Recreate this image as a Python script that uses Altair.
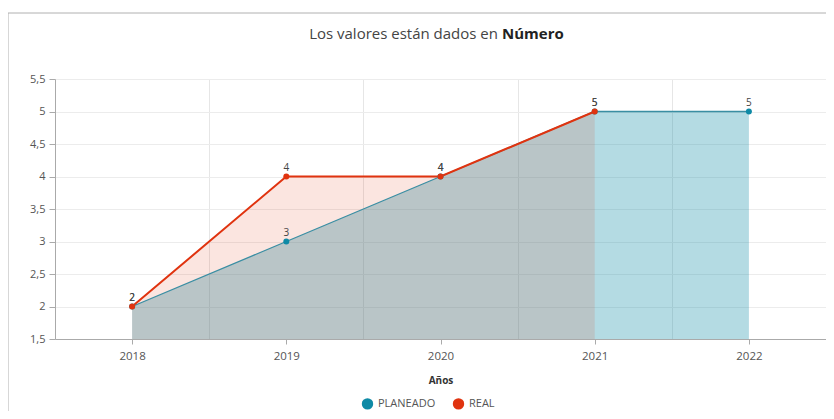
import altair as alt
import pandas as pd

# ---- data ----
years = [2018, 2019, 2020, 2021, 2022]
planeado = [2, 3, 4, 5, 5]
real_years = [2018, 2019, 2020, 2021]
real = [2, 4, 4, 5]
series_names = ["PLANEADO", "REAL"]
y_ticks = [1.5, 2, 2.5, 3, 3.5, 4, 4.5, 5, 5.5]
grid_years = [2017.5, 2018.5, 2019.5, 2020.5, 2021.5, 2022.5]
title_normal = "Los valores están dados en"
title_bold = "Número"
x_title = "Años"

TEAL = "#0e8aa6"
RED = "#e0330f"

rows = [{"serie": "PLANEADO", "year": y, "value": v} for y, v in zip(years, planeado)]
rows += [{"serie": "REAL", "year": y, "value": v} for y, v in zip(real_years, real)]
df = pd.DataFrame(rows)

W, H = 771, 260

base = alt.Chart(df)
xscale = alt.Scale(domain=[2017.5, 2022.5], nice=False, zero=False)
yscale = alt.Scale(domain=[1.5, 5.5], nice=False, zero=False)


def X(axis=None):
    return alt.X("year:Q", scale=xscale, axis=axis, title=None)


def Y():
    return alt.Y("value:Q", scale=yscale, title=None,
                 axis=alt.Axis(values=y_ticks, grid=True, gridColor="#ececec",
                               domainColor="#aaaaaa", tickColor="#aaaaaa", tickSize=6,
                               labelColor="#555555", labelFontSize=11, labelPadding=4,
                               labelFont="Open Sans",
                               labelExpr="replace(format(datum.value, '.1~f'), '.', ',')"))


x_label_axis = alt.Axis(values=years, format="d", grid=False, orient="bottom",
                        domainColor="#aaaaaa", tickColor="#aaaaaa", tickSize=5,
                        labelColor="#555555", labelFontSize=11.5, labelPadding=6,
                        labelFont="Open Sans",
                        title=x_title, titleFontSize=10, titleFontWeight="bold",
                        titleColor="#333333", titlePadding=14, titleFont="Open Sans")
x_grid_axis = alt.Axis(values=grid_years, grid=True, gridColor="#e6e6e6", orient="top",
                       labels=False, ticks=False, domain=False, title=None)

area_plan = base.transform_filter(alt.datum.serie == "PLANEADO").mark_area(
    color=TEAL, opacity=0.31, clip=True).encode(x=X(x_label_axis), y=Y())
area_real = base.transform_filter(alt.datum.serie == "REAL").mark_area(
    color=RED, opacity=0.13, clip=True).encode(x=X(x_grid_axis), y=Y())
line_plan = base.transform_filter(alt.datum.serie == "PLANEADO").mark_line(
    color="#3a8ea3", strokeWidth=1.3).encode(x=X(), y=Y())
line_real = base.transform_filter(alt.datum.serie == "REAL").mark_line(
    color=RED, strokeWidth=2).encode(x=X(), y=Y())
points = base.mark_circle(size=36, opacity=1).encode(
    x=X(), y=Y(),
    color=alt.Color("serie:N",
                    scale=alt.Scale(domain=series_names, range=[TEAL, RED]),
                    legend=alt.Legend(orient="none", legendX=306, legendY=318,
                                      direction="horizontal", title=None,
                                      symbolType="circle", symbolSize=130,
                                      symbolOpacity=1, labelFontSize=11,
                                      labelColor="#555555", labelFont="Open Sans",
                                      columnPadding=16)),
    order=alt.Order("serie:N"))
labels = base.mark_text(dy=-9, fontSize=10, color="#444444", font="Open Sans").encode(
    x=X(), y=Y(), text=alt.Text("value:Q"))

one = pd.DataFrame({"t": [title_normal], "b": [title_bold]})
t1 = alt.Chart(one).mark_text(align="right", baseline="middle", fontSize=15,
                              color="#444444", font="Open Sans").encode(
    x=alt.value(443), y=alt.value(-45), text="t:N")
t2 = alt.Chart(one).mark_text(align="left", baseline="middle", fontSize=15,
                              fontWeight="bold", color="#222222", font="Open Sans").encode(
    x=alt.value(447), y=alt.value(-45), text="b:N")
border_left = alt.Chart(one).mark_rule(color="#b0b0b0", strokeWidth=1).encode(
    x=alt.value(-47), y=alt.value(-66), y2=alt.value(345))
border_top = alt.Chart(one).mark_rule(color="#b0b0b0", strokeWidth=1).encode(
    x=alt.value(-47), x2=alt.value(W + 10), y=alt.value(-66))

chart = alt.layer(
    area_plan, area_real, line_plan, line_real, points, labels,
    t1, t2, border_left, border_top
).resolve_axis(x="independent").properties(
    width=W, height=H,
    autosize=alt.AutoSizeParams(type="none"),
    padding={"left": 47, "top": 71, "right": 0, "bottom": 72},
).configure_view(stroke=None)

chart.save("out.html", embed_options={"renderer": "svg", "actions": False})
